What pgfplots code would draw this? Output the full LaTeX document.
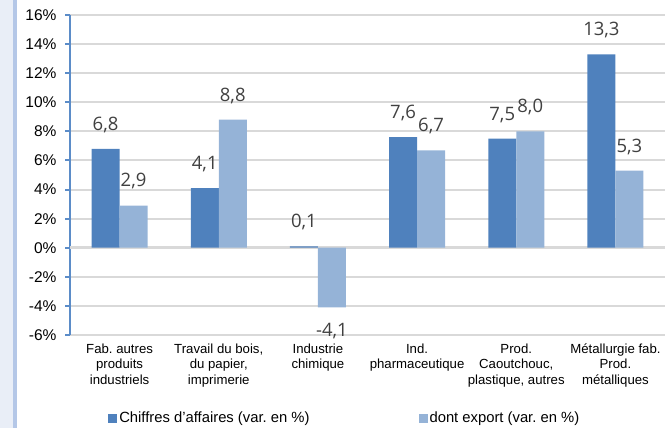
\documentclass[border=0pt]{standalone}
\usepackage{fontspec}
\setmainfont{Liberation Sans}
\newfontfamily\labfont{Open Sans}
\usepackage{pgfplots}
\usepackage{pgfplotstable}
\pgfplotsset{compat=1.18}
\frenchspacing

\definecolor{cbleu}{HTML}{4F81BD}
\definecolor{cclair}{HTML}{95B3D7}
\definecolor{grille}{HTML}{D9D9D9}
\definecolor{axebleu}{HTML}{5B8CC8}
\definecolor{fond}{HTML}{E9EEF7}
\definecolor{bande}{HTML}{B4C7E7}
\definecolor{etiq}{HTML}{404040}

% variation en % : chiffre d'affaires / dont export
\pgfplotstableread{
x ca exp
0 6.8 2.9
1 4.1 8.8
2 0.1 -4.1
3 7.6 6.7
4 7.5 8.0
5 13.3 5.3
}\donnees

\begin{document}
\begin{tikzpicture}
\useasboundingbox (0,0) rectangle (665bp,428bp);
\fill[fond] (0,0) rectangle (13bp,428bp);
\fill[bande] (13bp,0) rectangle (17bp,428bp);
\begin{axis}[
    at={(70bp,93bp)}, anchor=south west,
    scale only axis, width=595bp, height=320bp,
    xmin=-0.5, xmax=5.5, ymin=-6, ymax=16,
    ytick={-6,-4,...,16},
    xtick={0,...,5},
    xticklabels={{Fab. autres\\produits\\industriels},
        {Travail du bois,\\du papier,\\imprimerie},
        {Industrie\\chimique},
        {Ind.\\pharmaceutique},
        {Prod.\\Caoutchouc,\\plastique, autres},
        {Métallurgie fab.\\Prod.\\métalliques}},
    xticklabel style={font=\fontsize{13.2bp}{15.6bp}\selectfont, align=center},
    yticklabel={\pgfmathprintnumber{\tick}\%},
    yticklabel style={font=\fontsize{15.5bp}{18bp}\selectfont, xshift=-5bp},
    /pgf/number format/assume math mode=true,
    axis lines*=left,
    x axis line style={draw=none},
    y axis line style={-, axebleu, line width=2bp},
    tick align=outside,
    major tick length=5bp,
    xtick style={draw=none},
    ytick style={axebleu, line width=2bp},
    ymajorgrids,
    grid style={grille, line width=2bp},
    extra y ticks={0},
    extra y tick labels={},
    extra y tick style={grid style={grille, line width=3bp}},
    carre/.style={legend image code/.code={\fill[##1] (0bp,-4.5bp) rectangle (9bp,4.5bp);}},
    legend style={draw=none, fill=none, inner sep=0pt,
        at={(axis description cs:0.064,-0.26)}, anchor=west,
        font=\fontsize{14.8bp}{17bp}\selectfont,
        /tikz/every even column/.append style={column sep=107bp}},
    legend columns=2,
    every node near coord/.append style={font=\labfont\fontsize{18.5bp}{20bp}\selectfont,
        text=etiq, inner ysep=16bp},
]
\addplot[ybar, carre, bar width=28bp, bar shift=-14bp, fill=cbleu, draw=none,
    nodes near coords={\pgfmathprintnumber[use comma,fixed,fixed zerofill,precision=1]{\pgfplotspointmeta}},
    nodes near coords align=vertical,
    every node near coord/.append style={xshift=-14bp}]
    table[x=x, y=ca]{\donnees};
\addlegendentry{Chiffres d\symbol{39}affaires (var. en \%)}
\addplot[ybar, carre, bar width=28bp, bar shift=14bp, fill=cclair, draw=none,
    nodes near coords={\pgfmathprintnumber[use comma,fixed,fixed zerofill,precision=1]{\pgfplotspointmeta}},
    nodes near coords align=vertical,
    every node near coord/.append style={xshift=14bp}]
    table[x=x, y=exp]{\donnees};
\addlegendentry{dont export (var. en \%)}
\end{axis}
\end{tikzpicture}
\end{document}
